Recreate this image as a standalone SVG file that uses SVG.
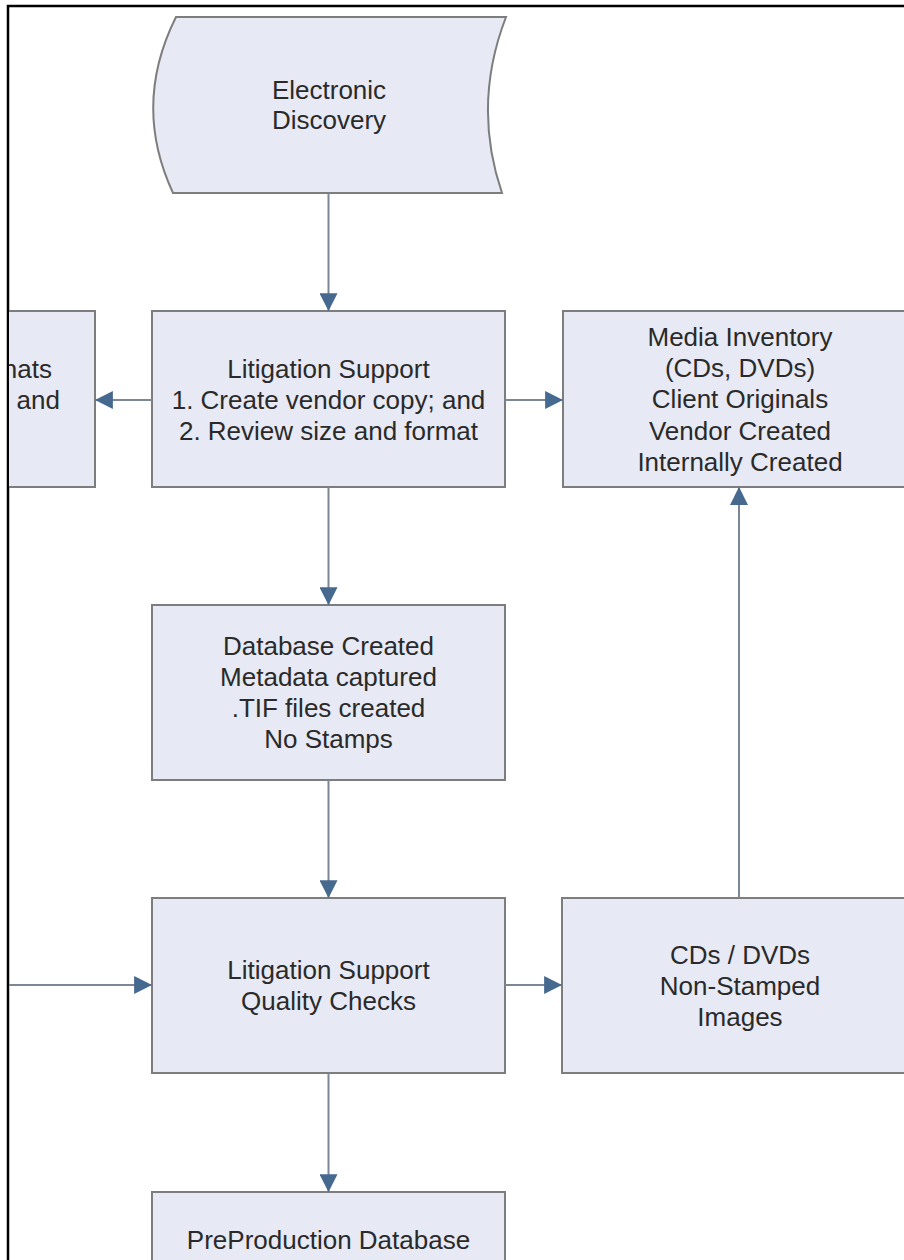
<svg xmlns="http://www.w3.org/2000/svg" width="904" height="1260" viewBox="0 0 904 1260">
<style>
.box{fill:#e7e9f4;stroke:#7d7d7d;stroke-width:2}
.t{font-family:"Liberation Sans",Arial,sans-serif;font-size:26px;fill:#2a2a2a;text-anchor:middle;dominant-baseline:central}
.c{fill:none;stroke:#7b8794;stroke-width:2}
</style>
<defs>
<marker id="ah" markerUnits="userSpaceOnUse" markerWidth="18" markerHeight="18" viewBox="0 0 16 16" refX="15" refY="8" orient="auto">
<path d="M0,0 L16,8 L0,16 Z" fill="#46698f"/>
</marker>
<clipPath id="clipL"><rect x="9" y="0" width="895" height="1260"/></clipPath>
</defs>
<rect x="0" y="0" width="904" height="1260" fill="#ffffff"/>
<path d="M8,1262 L8,6 L906,6" fill="none" stroke="#000" stroke-width="2.5"/>

<g id="electronic-discovery">
<path class="box" d="M176,17 L506,17 Q472,105 502,193 L173,193 Q132,105 176,17 Z"/>
<text class="t" x="329" y="90">Electronic</text>
<text class="t" x="329" y="120">Discovery</text>
</g>

<g id="formats" clip-path="url(#clipL)">
<rect class="box" x="-20" y="311" width="115" height="176"/>
<text class="t" x="52" y="369" style="text-anchor:end">nats</text>
<text class="t" x="60" y="400" style="text-anchor:end">and</text>
</g>

<g id="litigation-support">
<rect class="box" x="152" y="311" width="353" height="176"/>
<text class="t" x="328.5" y="369">Litigation Support</text>
<text class="t" x="328.5" y="400">1. Create vendor copy; and</text>
<text class="t" x="328.5" y="431">2. Review size and format</text>
</g>

<g id="media-inventory">
<rect class="box" x="563" y="311" width="360" height="176"/>
<text class="t" x="740" y="337">Media Inventory</text>
<text class="t" x="740" y="368">(CDs, DVDs)</text>
<text class="t" x="740" y="399">Client Originals</text>
<text class="t" x="740" y="431">Vendor Created</text>
<text class="t" x="740" y="462">Internally Created</text>
</g>

<g id="database-created">
<rect class="box" x="152" y="605" width="353" height="175"/>
<text class="t" x="328.5" y="646">Database Created</text>
<text class="t" x="328.5" y="677">Metadata captured</text>
<text class="t" x="328.5" y="708">.TIF files created</text>
<text class="t" x="328.5" y="739">No Stamps</text>
</g>

<g id="quality-checks">
<rect class="box" x="152" y="898" width="353" height="175"/>
<text class="t" x="328.5" y="970">Litigation Support</text>
<text class="t" x="328.5" y="1001">Quality Checks</text>
</g>

<g id="cds-dvds">
<rect class="box" x="562" y="898" width="360" height="175"/>
<text class="t" x="740" y="955">CDs / DVDs</text>
<text class="t" x="740" y="986">Non-Stamped</text>
<text class="t" x="740" y="1017">Images</text>
</g>

<g id="preproduction-database">
<rect class="box" x="152" y="1192" width="353" height="100"/>
<text class="t" x="328.5" y="1240">PreProduction Database</text>
</g>

<g id="connectors">
<line class="c" x1="328.5" y1="193" x2="328.5" y2="310" marker-end="url(#ah)"/>
<line class="c" x1="152" y1="400" x2="96" y2="400" marker-end="url(#ah)"/>
<line class="c" x1="505" y1="400" x2="562" y2="400" marker-end="url(#ah)"/>
<line class="c" x1="328.5" y1="487" x2="328.5" y2="604" marker-end="url(#ah)"/>
<line class="c" x1="328.5" y1="780" x2="328.5" y2="897" marker-end="url(#ah)"/>
<line class="c" x1="9" y1="985" x2="151" y2="985" marker-end="url(#ah)"/>
<line class="c" x1="505" y1="985" x2="561" y2="985" marker-end="url(#ah)"/>
<line class="c" x1="739" y1="898" x2="739" y2="488" marker-end="url(#ah)"/>
<line class="c" x1="328.5" y1="1073" x2="328.5" y2="1191" marker-end="url(#ah)"/>
</g>
</svg>
